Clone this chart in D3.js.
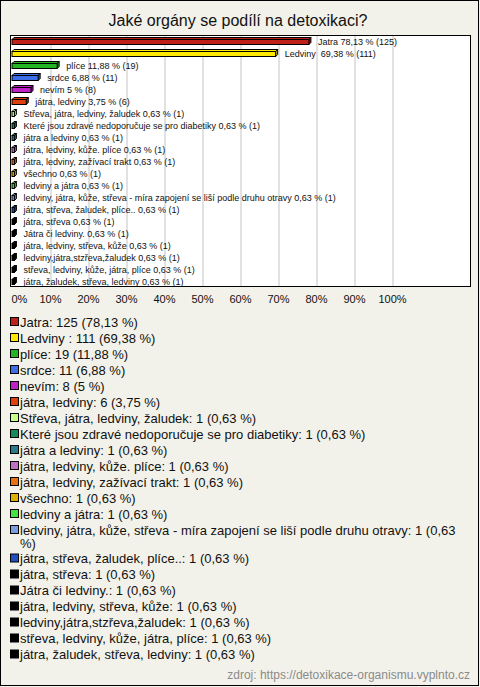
<!DOCTYPE html>
<html><head><meta charset="utf-8">
<script src="https://cdn.jsdelivr.net/npm/d3@7"></script>
<style>
html,body{margin:0;padding:0;background:#f3f2ea;}
svg{display:block;font-family:"Liberation Sans",Arial,sans-serif;}
</style></head>
<body>
<svg id="c" width="480" height="687"></svg>
<script>
const title = "Jaké orgány se podílí na detoxikaci?";
const categories = ["Jatra","Ledviny ","plíce","srdce","nevím","játra, ledviny",
 "Střeva, játra, ledviny, žaludek","Které jsou zdravé nedoporučuje se pro diabetiky",
 "játra a ledviny","játra, ledviny, kůže. plíce","játra, ledviny, zažívací trakt","všechno",
 "ledviny a játra","ledviny, játra, kůže, střeva - míra zapojení se liší podle druhu otravy",
 "játra, střeva, žaludek, plíce..","játra, střeva","Játra či ledviny.","játra, ledviny, střeva, kůže",
 "ledviny,játra,stzřeva,žaludek","střeva, ledviny, kůže, játra, plíce","játra, žaludek, střeva, ledviny"];
const counts = [125,111,19,11,8,6,1,1,1,1,1,1,1,1,1,1,1,1,1,1,1];
const percents = [78.13,69.38,11.88,6.88,5,3.75,0.63,0.63,0.63,0.63,0.63,0.63,0.63,0.63,0.63,0.63,0.63,0.63,0.63,0.63,0.63];
const colors = ["#c0201a","#ffe800","#22b422","#3c6ee6","#c020c8","#e0400e","#c8ff88","#168a5c",
 "#2a7c8c","#c070c4","#e87010","#e0b000","#44e044","#7a9ee0","#2050c0",
 "#000","#000","#000","#000","#000","#000"];
const tickValues = [0,10,20,30,40,50,60,70,80,90,100];
const source = "zdroj: https://detoxikace-organismu.vyplnto.cz";

const fmt = v => String(v).replace(".", ",");
const svg = d3.select("#c");

svg.append("rect").attr("x",0.5).attr("y",0.5).attr("width",478).attr("height",685)
  .attr("fill","#f3f2ea").attr("stroke","#000");

svg.append("text").attr("x",238).attr("y",26).attr("text-anchor","middle")
  .attr("font-size",16).attr("fill","#111").text(title);

const box = {x:10.5, y:35.5, w:460, h:251};
svg.append("rect").attr("x",box.x).attr("y",box.y).attr("width",box.w).attr("height",box.h)
  .attr("fill","#fff");

const x = d3.scaleLinear().domain([0,100]).range([12,392]);
const y = d3.scaleBand().domain(categories.map((c,i)=>i)).range([35,287]).paddingInner(0);

// gridlines
const grid = svg.append("g").attr("transform",`translate(0,${box.y})`)
  .call(d3.axisBottom(x).tickValues(tickValues.slice(1)).tickSize(box.h).tickFormat(""));
grid.select(".domain").remove();
grid.selectAll("line").attr("stroke","#c4c4c4").attr("transform","translate(0.5,0)");

svg.append("rect").attr("x",box.x).attr("y",box.y).attr("width",box.w).attr("height",box.h)
  .attr("fill","none").attr("stroke","#000");

// bars
const d = 2;
const rows = svg.append("g").selectAll("g").data(categories).join("g");
rows.each(function(c,i){
  const g = d3.select(this);
  const cy = y(i) + y.bandwidth()/2 + 0.5;
  const x0 = x(0), x1 = Math.max(x(percents[i]), x0+2);
  const top = cy-2, bot = cy+3;
  const col = colors[i];
  g.append("path").attr("d",`M${x0},${top}L${x0+d},${top-d}L${x1+d},${top-d}L${x1},${top}Z`)
    .attr("fill",col).attr("stroke","#000").attr("stroke-width",1);
  g.append("path").attr("d",`M${x1},${top}L${x1+d},${top-d}L${x1+d},${bot-d}L${x1},${bot}Z`)
    .attr("fill",d3.color(col).darker(0.6)).attr("stroke","#000").attr("stroke-width",1);
  g.append("rect").attr("x",x0).attr("y",top).attr("width",x1-x0).attr("height",bot-top)
    .attr("fill",col).attr("stroke","#000").attr("stroke-width",1);
  g.append("text").attr("x",x1+9).attr("y",cy).attr("dy","0.35em")
    .attr("font-size",9).attr("fill","#111").style("white-space","pre")
    .text(`${c} ${fmt(percents[i])} % (${counts[i]})`);
});

// axis labels
const ax = svg.append("g").attr("transform","translate(0,299)")
  .call(d3.axisBottom(x).tickValues(tickValues).tickSize(0).tickFormat(v=>v+"%"));
ax.select(".domain").remove();
ax.selectAll("text").attr("font-size",11).attr("fill","#111")
  .attr("font-family","Liberation Sans, Arial, sans-serif").attr("dy","0.35em").attr("y",0);
ax.selectAll("text").filter(v=>v===0).attr("text-anchor","start").attr("x",-1);

// legend
const leg = svg.append("g");
let ly = 322;
const maxW = 452;
categories.forEach((c,i)=>{
  const label = `${c}: ${counts[i]} (${fmt(percents[i])} %)`;
  leg.append("rect").attr("x",10.5).attr("y",ly-4.5).attr("width",8).attr("height",8)
    .attr("fill",colors[i]).attr("stroke","#000");
  const t = leg.append("text").attr("x",20).attr("y",ly).attr("dy","0.35em")
    .attr("font-size",13).attr("fill","#111");
  const words = label.split(" ");
  let line = [], lines = 0;
  let ts = t.append("tspan").attr("x",20);
  words.forEach(w=>{
    line.push(w);
    ts.text(line.join(" "));
    if (ts.node().getComputedTextLength() > maxW && line.length>1){
      line.pop(); ts.text(line.join(" "));
      line=[w]; lines++;
      ts = t.append("tspan").attr("x",20).attr("dy",13.5).text(w);
    }
  });
  ly += 16 + lines*12.5;
});

svg.append("text").attr("x",470).attr("y",675).attr("dy","0.35em").attr("text-anchor","end")
  .attr("font-size",12).attr("fill","#8a8a8a").text(source);
</script>
</body></html>
